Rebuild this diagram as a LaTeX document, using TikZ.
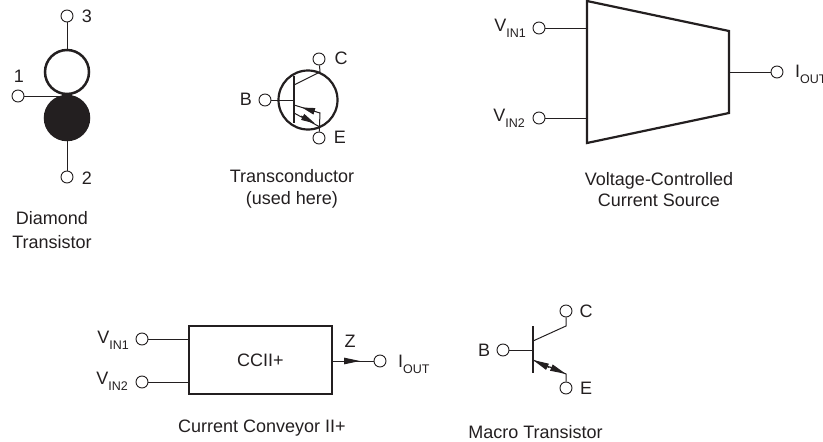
\documentclass[tikz,border=0pt]{standalone}
\usepackage{fontspec}
\setmainfont{Liberation Sans}
\usetikzlibrary{arrows.meta}
\definecolor{ink}{HTML}{231F20}
\newcommand{\vsub}[2]{#1\raisebox{-6pt}{\fontsize{12.5}{13}\selectfont #2}}
\tikzset{
 x=1pt,y=-1pt,
 term/.style={circle,draw=ink,fill=white,line width=0.9pt,minimum size=12pt,inner sep=0pt},
 wire/.style={draw=ink,line width=1pt},
 heavy/.style={draw=ink,line width=2.2pt,line join=miter},
 label/.style={text=ink,font=\fontsize{18}{22}\selectfont,inner sep=0pt},
 caption/.style={label,align=center},
 tip/.style={-{Triangle[length=#1,width=6.5pt]},shorten <=0pt}
}
\begin{document}
\begin{tikzpicture}
\useasboundingbox (0,0) rectangle (823,442);
% Diamond transistor
\node[circle,draw=ink,line width=2.5pt,fill=white,minimum size=44pt,inner sep=0pt] (dtop) at (67,72) {};
\node[circle,draw=ink,line width=2.5pt,fill=ink,minimum size=44pt,inner sep=0pt] (dbot) at (67,118) {};
\node[term] (d3) at (67,16) {};
\node[term] (d1) at (18,96) {};
\node[term] (d2) at (67,177) {};
\coordinate (dmid) at (60,96);
\draw[wire] (d3) -- (dtop);
\draw[wire] (d2) -- (dbot);
\draw[wire] (d1) -- (dmid);
\node[label] (l3) at (87,16) {3};
\node[label] (l1) at (19,76) {1};
\node[label] (l2) at (87,178) {2};
\node[caption] (cd) at (52,230) {Diamond\\[2pt]Transistor};
% Transconductor
\node[circle,draw=ink,line width=2.2pt,minimum size=59pt,inner sep=0pt] (tc) at (308,100) {};
\node[term] (tC) at (319,59) {};
\node[term] (tE) at (319,138) {};
\node[term] (tB) at (265,100) {};
\coordinate (tbt) at (294,76);
\coordinate (tbb) at (294,123);
\coordinate (tbm) at (294,100);
\coordinate (tcb) at (294,85);
\coordinate (tcc) at (320,72);
\coordinate (tea) at (294,105);
\coordinate (teb) at (320,113);
\coordinate (tec) at (294,113);
\coordinate (ted) at (320,127);
\coordinate (ta1) at (315,111.5);
\coordinate (ta2) at (302,107.5);
\coordinate (ta3) at (301,116);
\coordinate (ta4) at (315,123.5);
\draw[heavy] (tbt) -- (tbb);
\draw[wire] (tB) -- (tbm);
\draw[wire] (tcb) -- (tcc) -- (tC);
\draw[wire] (tea) -- (teb) -- (tE);
\draw[wire] (tec) -- (ted);
\draw[wire,tip=13pt] (ta1) -- (ta2);
\draw[wire,tip=14pt] (ta3) -- (ta4);
\node[label] (lB) at (246,99) {B};
\node[label] (lC) at (341,58) {C};
\node[label] (lE) at (340,137) {E};
\node[caption] (ct) at (292,189) {Transconductor\\(used here)};
% VCCS
\path[heavy,fill=white] (587,1) coordinate (va) -- (729,31) -- (729,113) -- (587,143) coordinate (vb) -- cycle;
\node[term] (v1) at (539,28) {};
\node[term] (v2) at (539,118) {};
\node[term] (vo) at (777,72) {};
\coordinate (vi1) at (587,28);
\coordinate (vi2) at (587,118);
\coordinate (voa) at (729,72);
\draw[wire] (v1) -- (vi1);
\draw[wire] (v2) -- (vi2);
\draw[wire] (vo) -- (voa);
\node[label,anchor=base east] (lv1) at (526,31) {\vsub{V}{IN1}};
\node[label,anchor=base east] (lv2) at (525,121) {\vsub{V}{IN2}};
\node[label,anchor=base west] (lvo) at (795,77) {\vsub{I}{OUT}};
\node[caption] (cv) at (659,190) {Voltage-Controlled\\[-1pt]Current Source};
% CCII+
\node[heavy,fill=white,minimum width=143pt,minimum height=68pt,inner sep=0pt,label] (cc) at (260.5,360) {CCII+};
\node[term] (c1) at (142,339) {};
\node[term] (c2) at (142,382) {};
\node[term] (co) at (380,361) {};
\coordinate (cc1) at (189,339);
\coordinate (cc2) at (189,382);
\coordinate (cco) at (332,361);
\coordinate (cct) at (360,361);
\coordinate (ccs) at (344,361);
\draw[wire] (c1) -- (cc1);
\draw[wire] (c2) -- (cc2);
\draw[wire] (cco) -- (co);
\draw[wire,tip=16pt] (ccs) -- (cct);
\node[label,anchor=base east] (lc1) at (129,343) {\vsub{V}{IN1}};
\node[label,anchor=base east] (lc2) at (128,384) {\vsub{V}{IN2}};
\node[label] (lz) at (350,341) {Z};
\node[label,anchor=base west] (lco) at (398,367) {\vsub{I}{OUT}};
\node[caption] (ccc) at (262,428) {Current Conveyor II+};
% Macro transistor
\node[term] (mC) at (566,311) {};
\node[term] (mE) at (566,388) {};
\node[term] (mB) at (503,350) {};
\coordinate (mbt) at (533,326);
\coordinate (mbb) at (533,373);
\coordinate (mbm) at (533,350);
\coordinate (mcb) at (533,341);
\coordinate (mcc) at (566,326);
\coordinate (mea) at (533,360);
\coordinate (meb) at (566,374);
\coordinate (mm1) at (549,367.5);
\coordinate (mm2) at (550,367);
\draw[heavy] (mbt) -- (mbb);
\draw[wire] (mB) -- (mbm);
\draw[wire] (mcb) -- (mcc) -- (mC);
\draw[wire] (mea) -- (meb) -- (mE);
\draw[wire,tip=16pt] (mm1) -- (mea);
\draw[wire,tip=16pt] (mm2) -- (meb);
\node[label] (lmB) at (484,350) {B};
\node[label] (lmC) at (586,311) {C};
\node[label] (lmE) at (586,388) {E};
\node[caption] (cm) at (535.5,432) {Macro Transistor};
\end{tikzpicture}
\end{document}
